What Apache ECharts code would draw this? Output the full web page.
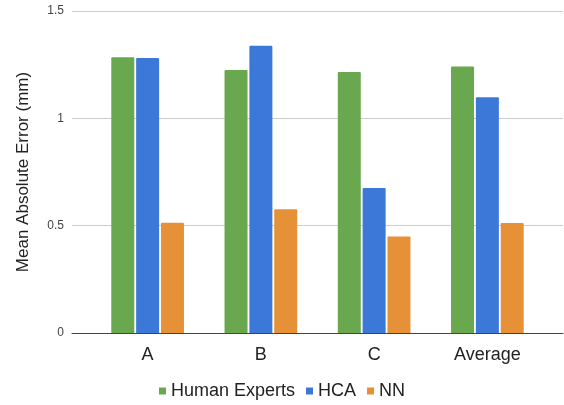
<!DOCTYPE html>
<html>
<head>
<meta charset="utf-8">
<style>
  html, body { margin: 0; padding: 0; background: #fff; }
  #chart { width: 564px; height: 405px; }
</style>
<script src="https://cdn.jsdelivr.net/npm/echarts@6/dist/echarts.min.js"></script>
</head>
<body>
<div id="chart"></div>
<script>
// Mean absolute error per case, three methods
const categories = ['A', 'B', 'C', 'Average'];
const humanExperts = [1.284, 1.225, 1.216, 1.242];
const hca = [1.281, 1.338, 0.675, 1.098];
const nn = [0.514, 0.576, 0.450, 0.513];
const yTicks = [0, 0.5, 1, 1.5];

const FONT = '"Liberation Sans", Arial, sans-serif';
const chart = echarts.init(document.getElementById('chart'), null, { renderer: 'canvas' });

const yMin = yTicks[0];
const yMax = yTicks[yTicks.length - 1];
const yStep = yTicks[1] - yTicks[0];

chart.setOption({
  animation: false,
  backgroundColor: '#ffffff',
  textStyle: { fontFamily: FONT },
  color: ['#6aa84f', '#3c78d8', '#e69138'],
  legend: {
    top: 377,
    left: 'center',
    icon: 'rect',
    itemWidth: 7,
    itemHeight: 7,
    itemGap: 11,
    textStyle: { fontFamily: FONT, fontSize: 18, color: '#222' },
    data: ['Human Experts', 'HCA', 'NN']
  },
  grid: [
    // wide grid: gridlines, baseline and y labels
    { left: 72, right: 1, top: 11, bottom: 72, containLabel: false },
    // inner grid: the bars
    { left: 91, right: 20, top: 11, bottom: 72, containLabel: false }
  ],
  xAxis: [
    {
      gridIndex: 0,
      type: 'value',
      min: 0, max: 1,
      axisLine: { show: true, onZero: false, lineStyle: { color: '#444', width: 1 } },
      axisTick: { show: false },
      axisLabel: { show: false },
      splitLine: { show: false }
    },
    {
      gridIndex: 1,
      type: 'category',
      data: categories,
      axisLine: { show: false },
      axisTick: { show: false },
      axisLabel: { margin: 13, fontFamily: FONT, fontSize: 18, color: '#222' },
      splitLine: { show: false }
    }
  ],
  yAxis: [
    {
      gridIndex: 0,
      type: 'value',
      min: yMin, max: yMax, interval: yStep,
      name: 'Mean Absolute Error (mm)',
      nameLocation: 'middle',
      nameGap: 40,
      nameTextStyle: { fontFamily: FONT, fontSize: 17, color: '#222' },
      axisLine: { show: false },
      axisTick: { show: false },
      axisLabel: { margin: 8, fontFamily: FONT, fontSize: 12, color: '#444' },
      splitLine: { show: true, lineStyle: { color: '#cccccc', width: 1 } }
    },
    {
      gridIndex: 1,
      type: 'value',
      min: yMin, max: yMax, interval: yStep,
      show: false,
      splitLine: { show: false }
    }
  ],
  series: [
    {
      name: 'Human Experts', type: 'bar', xAxisIndex: 1, yAxisIndex: 1,
      data: humanExperts, barWidth: 23, barGap: '8%',
      itemStyle: { borderRadius: [1, 1, 0, 0] }
    },
    {
      name: 'HCA', type: 'bar', xAxisIndex: 1, yAxisIndex: 1,
      data: hca, barWidth: 23, barGap: '8%',
      itemStyle: { borderRadius: [1, 1, 0, 0] }
    },
    {
      name: 'NN', type: 'bar', xAxisIndex: 1, yAxisIndex: 1,
      data: nn, barWidth: 23, barGap: '8%',
      itemStyle: { borderRadius: [1, 1, 0, 0] }
    }
  ]
});
</script>
</body>
</html>
